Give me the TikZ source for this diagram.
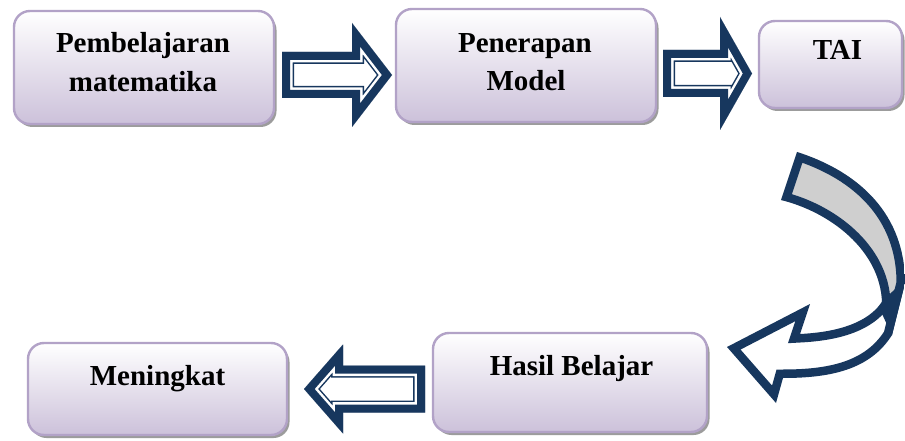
\documentclass[tikz,border=0pt]{standalone}
\usepackage{fontspec}
\setmainfont{Liberation Serif}
\usetikzlibrary{shadows}
\definecolor{navy}{HTML}{17375E}
\definecolor{boxline}{HTML}{B2A2C7}
\definecolor{boxbot}{HTML}{CCC1DA}
\definecolor{ribgray}{HTML}{CFCFCF}
\tikzset{
  blkpoly/.style n args={6}{insert path={(#1,#4-#5) -- (#2,#4-#5) -- (#2,#4-#6) -- (#3,#4) -- (#2,#4+#6) -- (#2,#4+#5) -- (#1,#4+#5) -- cycle}},
  curvpath/.style={insert path={(797,152) .. controls (860,172) and (905,215) .. (905,283) -- (892,335) .. controls (870,370) and (830,378) .. (783,378) -- (776,403) -- (727,347) -- (810,304) -- (800,334) .. controls (840,332) and (868,322) .. (882,302) .. controls (880,250) and (830,212) .. (781,200) -- cycle}},
  box/.style={draw=boxline, line width=2.4pt, rounded corners=16pt,
    top color=white, bottom color=boxbot, middle color=boxbot!50,
    drop shadow={shadow xshift=2.5pt, shadow yshift=-3pt, fill=black!55, opacity=0.7},
    inner sep=0pt},
  lbl/.style={font=\fontsize{29}{34}\selectfont\bfseries, anchor=base, inner sep=0pt}
}
\newcommand{\blkarrow}[6]{%
  \begin{scope}
    \clip[blkpoly={#1}{#2}{#3}{#4}{#5}{#6}];
    \fill[white, blkpoly={#1}{#2}{#3}{#4}{#5}{#6}];
    \draw[navy, line width=24pt, blkpoly={#1}{#2}{#3}{#4}{#5}{#6}];
    \draw[white, line width=21pt, blkpoly={#1}{#2}{#3}{#4}{#5}{#6}];
    \draw[navy, line width=16pt, blkpoly={#1}{#2}{#3}{#4}{#5}{#6}];
  \end{scope}}
\begin{document}
\begin{tikzpicture}[x=1pt,y=-1pt]
\useasboundingbox (0,0) rectangle (905,441);
\fill[white] (0,0) rectangle (905,441);
% boxes
\node[box, minimum width=260pt, minimum height=113pt] (b1) at (144,67.5) {};
\node[box, minimum width=260pt, minimum height=113pt] (b2) at (526,65.5) {};
\node[box, minimum width=143pt, minimum height=87pt] (b3) at (830.5,64.5) {};
\node[box, minimum width=259pt, minimum height=92pt] (b4) at (157.5,389) {};
\node[box, minimum width=274pt, minimum height=99pt] (b5) at (570,382.5) {};
% labels
\node[lbl] (t1a) at (143,53) {Pembelajaran};
\node[lbl] (t1b) at (143,92) {matematika};
\node[lbl] (t2a) at (525,53) {Penerapan};
\node[lbl] (t2b) at (526,91) {Model};
\node[lbl] (t3) at (837.5,60) {TAI};
\node[lbl] (t4) at (157.5,385) {Meningkat};
\node[lbl] (t5) at (571.5,375) {Hasil Belajar};
% block arrows
\blkarrow{282}{352}{392}{75}{23}{52}
\blkarrow{663}{720}{752}{73.5}{23.5}{56.5}
\blkarrow{425}{343}{304}{389}{23.5}{44.5}
% curved arrow
\begin{scope}
  \clip[curvpath];
  \fill[white, curvpath];
  \fill[ribgray] (797,152) .. controls (860,172) and (905,215) .. (905,283) -- (882,302) .. controls (880,250) and (830,212) .. (781,200) -- cycle;
  \fill[navy] (878,305) -- (907,278) -- (894,340) -- cycle;
  \draw[navy, line width=17pt, curvpath];
\end{scope}
\end{tikzpicture}
\end{document}
